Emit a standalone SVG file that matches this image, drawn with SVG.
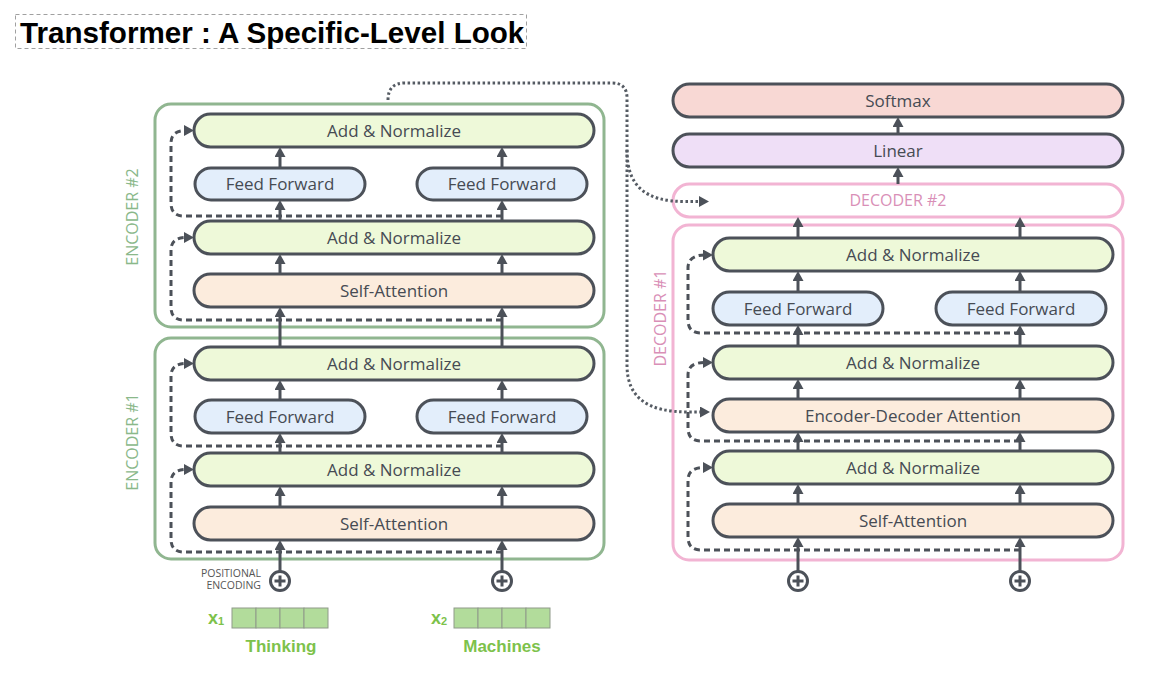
<svg xmlns="http://www.w3.org/2000/svg" width="1172" height="677" viewBox="0 0 1172 677">
<style>
.node{stroke:#4c5159;stroke-width:3}
.an{fill:#eef9d9}
.ff{fill:#e3eefb}
.sa{fill:#fcecdd}
.sm{fill:#f8d8d4}
.li{fill:#efdff7}
.lbl{font-family:"Open Sans","DejaVu Sans",sans-serif;font-size:17px;fill:#464b53;text-anchor:middle}
.encbox{fill:none;stroke:#90b690;stroke-width:3}
.decbox{fill:none;stroke:#f2b4d3;stroke-width:3}
.enclbl{font-family:"Open Sans","DejaVu Sans",sans-serif;font-size:16px;fill:#8ab88a;text-anchor:middle}
.declbl{font-family:"Open Sans","DejaVu Sans",sans-serif;font-size:16px;fill:#d98fb7;text-anchor:middle}
.arr{fill:none;stroke:#4c5159;stroke-width:3;marker-end:url(#ah)}
.res{fill:none;stroke:#4c5159;stroke-width:3;stroke-dasharray:6 4;marker-end:url(#ah)}
.dot{fill:none;stroke:#555b63;stroke-width:3;stroke-dasharray:2.5 2.5}
.plus{fill:#fff;stroke:#4c5159;stroke-width:3}
.cell{fill:#b2dc9b;stroke:#8f9a8a;stroke-width:1}
.word{font-family:"Liberation Sans",Arial,sans-serif;font-weight:bold;font-size:17px;fill:#7dc24b;text-anchor:middle}
.pe{font-family:"Open Sans","DejaVu Sans",sans-serif;font-size:10.5px;fill:#555;text-anchor:end}
</style>
<defs>
<marker id="ah" viewBox="0 0 10 11" refX="2" refY="5.5" markerWidth="10" markerHeight="11" markerUnits="userSpaceOnUse" orient="auto">
<path d="M0,0 L10,5.5 L0,11 z" fill="#4c5159"/>
</marker>
</defs>
<rect width="1172" height="677" fill="#fff"/>

<g id="title">
<rect x="15.5" y="14.5" width="511" height="34" fill="none" stroke="#a0a0a0" stroke-width="1" stroke-dasharray="4 3"/>
<text x="20" y="43" font-family="Liberation Sans, Arial, sans-serif" font-weight="bold" font-size="29.6" fill="#000">Transformer : A Specific-Level Look</text>
</g>

<g id="encoder2">
<rect class="encbox" x="155" y="104" width="449" height="223" rx="16"/>
<text class="enclbl" transform="translate(138 217) rotate(-90)">ENCODER #2</text>
</g>
<g id="enc2-an-top"><rect class="node an" x="194" y="114" width="400" height="33" rx="16.5"/><text class="lbl" x="394" y="136.5">Add &amp; Normalize</text></g>
<g id="enc2-ff1"><rect class="node ff" x="195" y="168" width="170" height="32" rx="16"/><text class="lbl" x="280" y="190">Feed Forward</text></g>
<g id="enc2-ff2"><rect class="node ff" x="417" y="168" width="170" height="32" rx="16"/><text class="lbl" x="502" y="190">Feed Forward</text></g>
<g id="enc2-an-bot"><rect class="node an" x="194" y="221" width="400" height="33" rx="16.5"/><text class="lbl" x="394" y="243.5">Add &amp; Normalize</text></g>
<g id="enc2-sa"><rect class="node sa" x="194" y="274" width="400" height="33" rx="16.5"/><text class="lbl" x="394" y="296.5">Self-Attention</text></g>

<g id="encoder1">
<rect class="encbox" x="155" y="338" width="449" height="221" rx="16"/>
<text class="enclbl" transform="translate(138 442) rotate(-90)">ENCODER #1</text>
</g>
<g id="enc1-an-top"><rect class="node an" x="194" y="347" width="400" height="33" rx="16.5"/><text class="lbl" x="394" y="369.5">Add &amp; Normalize</text></g>
<g id="enc1-ff1"><rect class="node ff" x="195" y="400" width="170" height="33" rx="16.5"/><text class="lbl" x="280" y="422.5">Feed Forward</text></g>
<g id="enc1-ff2"><rect class="node ff" x="417" y="400" width="170" height="33" rx="16.5"/><text class="lbl" x="502" y="422.5">Feed Forward</text></g>
<g id="enc1-an-bot"><rect class="node an" x="194" y="453" width="400" height="33" rx="16.5"/><text class="lbl" x="394" y="475.5">Add &amp; Normalize</text></g>
<g id="enc1-sa"><rect class="node sa" x="194" y="507" width="400" height="33" rx="16.5"/><text class="lbl" x="394" y="529.5">Self-Attention</text></g>

<g id="softmax"><rect class="node sm" x="673" y="84" width="450" height="33" rx="16.5"/><text class="lbl" x="898" y="106.5">Softmax</text></g>
<g id="linear"><rect class="node li" x="673" y="134" width="450" height="33" rx="16.5"/><text class="lbl" x="898" y="156.5">Linear</text></g>
<g id="decoder2"><rect class="decbox" x="673" y="184" width="450" height="33" rx="16.5" fill="#fff"/><text class="declbl" x="898" y="206">DECODER #2</text></g>

<g id="decoder1">
<rect class="decbox" x="673" y="225" width="450" height="335" rx="16"/>
<text class="declbl" transform="translate(666 318) rotate(-90)">DECODER #1</text>
</g>
<g id="dec1-an-top"><rect class="node an" x="713" y="238" width="400" height="33" rx="16.5"/><text class="lbl" x="913" y="260.5">Add &amp; Normalize</text></g>
<g id="dec1-ff1"><rect class="node ff" x="713" y="292" width="170" height="33" rx="16.5"/><text class="lbl" x="798" y="314.5">Feed Forward</text></g>
<g id="dec1-ff2"><rect class="node ff" x="936" y="292" width="170" height="33" rx="16.5"/><text class="lbl" x="1021" y="314.5">Feed Forward</text></g>
<g id="dec1-an-mid"><rect class="node an" x="713" y="346" width="400" height="33" rx="16.5"/><text class="lbl" x="913" y="368.5">Add &amp; Normalize</text></g>
<g id="dec1-eda"><rect class="node sa" x="713" y="399" width="400" height="33" rx="16.5"/><text class="lbl" x="913" y="421.5">Encoder-Decoder Attention</text></g>
<g id="dec1-an-bot"><rect class="node an" x="713" y="451" width="400" height="33" rx="16.5"/><text class="lbl" x="913" y="473.5">Add &amp; Normalize</text></g>
<g id="dec1-sa"><rect class="node sa" x="713" y="504" width="400" height="33" rx="16.5"/><text class="lbl" x="913" y="526.5">Self-Attention</text></g>

<g id="inputs">
<g id="pe1"><circle class="plus" cx="280" cy="581" r="9.5"/><path d="M274.5 581H285.5M280 575.5V586.5" stroke="#4c5159" stroke-width="3"/></g>
<g id="pe2"><circle class="plus" cx="502" cy="581" r="9.5"/><path d="M496.5 581H507.5M502 575.5V586.5" stroke="#4c5159" stroke-width="3"/></g>
<g id="pe3"><circle class="plus" cx="798" cy="581" r="9.5"/><path d="M792.5 581H803.5M798 575.5V586.5" stroke="#4c5159" stroke-width="3"/></g>
<g id="pe4"><circle class="plus" cx="1020" cy="581" r="9.5"/><path d="M1014.5 581H1025.5M1020 575.5V586.5" stroke="#4c5159" stroke-width="3"/></g>
<text class="pe" x="261" y="577">POSITIONAL</text>
<text class="pe" x="261" y="589">ENCODING</text>
<g id="x1">
<rect class="cell" x="232" y="608" width="24" height="20"/><rect class="cell" x="256" y="608" width="24" height="20"/><rect class="cell" x="280" y="608" width="24" height="20"/><rect class="cell" x="304" y="608" width="24" height="20"/>
<text x="208" y="624" font-family="Liberation Sans, Arial, sans-serif" font-weight="bold" font-size="18" fill="#7dc24b">x<tspan font-size="11" dy="1">1</tspan></text>
<text class="word" x="281" y="652">Thinking</text>
</g>
<g id="x2">
<rect class="cell" x="454" y="608" width="24" height="20"/><rect class="cell" x="478" y="608" width="24" height="20"/><rect class="cell" x="502" y="608" width="24" height="20"/><rect class="cell" x="526" y="608" width="24" height="20"/>
<text x="431" y="624" font-family="Liberation Sans, Arial, sans-serif" font-weight="bold" font-size="18" fill="#7dc24b">x<tspan font-size="11" dy="1">2</tspan></text>
<text class="word" x="502" y="652">Machines</text>
</g>
</g>

<g id="connectors">
<path class="arr" d="M280 571V548"/><path class="arr" d="M502 571V548"/>
<path class="arr" d="M280 507V494"/><path class="arr" d="M502 507V494"/>
<path class="arr" d="M280 453V441"/><path class="arr" d="M502 453V441"/>
<path class="arr" d="M280 400V388"/><path class="arr" d="M502 400V388"/>
<path class="arr" d="M280 347V315"/><path class="arr" d="M502 347V315"/>
<path class="arr" d="M280 274V262"/><path class="arr" d="M502 274V262"/>
<path class="arr" d="M280 221V208"/><path class="arr" d="M502 221V208"/>
<path class="arr" d="M280 168V155"/><path class="arr" d="M502 168V155"/>
<path class="res" d="M502 320H184Q171 320 171 307V250Q171 237.5 186 237.5"/>
<path class="res" d="M502 216H184Q171 216 171 203V143Q171 130.5 186 130.5"/>
<path class="res" d="M502 552H184Q171 552 171 539V482Q171 469.5 186 469.5"/>
<path class="res" d="M502 446H184Q171 446 171 433V376Q171 363.5 186 363.5"/>
<path class="arr" d="M798 571V545"/><path class="arr" d="M1020 571V545"/>
<path class="arr" d="M798 504V492"/><path class="arr" d="M1020 504V492"/>
<path class="arr" d="M798 451V440"/><path class="arr" d="M1020 451V440"/>
<path class="arr" d="M798 399V387"/><path class="arr" d="M1020 399V387"/>
<path class="arr" d="M798 346V333"/><path class="arr" d="M1020 346V333"/>
<path class="arr" d="M798 292V279"/><path class="arr" d="M1020 292V279"/>
<path class="arr" d="M798 238V225"/><path class="arr" d="M1020 238V225"/>
<path class="arr" d="M898 184V175"/>
<path class="arr" d="M898 134V125"/>
<path class="res" d="M1020 550H701Q688 550 688 537V480Q688 467.5 705 467.5"/>
<path class="res" d="M1020 441H701Q688 441 688 428V375Q688 362.5 705 362.5"/>
<path class="res" d="M1020 333H701Q688 333 688 320V268Q688 255 705 255"/>
<path class="dot" d="M388 100Q388 83 405 83H612Q627 83 627 98V365C627 398 648 412 688 412H702" marker-end="url(#ah)"/>
<path class="dot" d="M627 150C627 186 645 201.5 685 201.5H701" marker-end="url(#ah)"/>
</g>
</svg>
